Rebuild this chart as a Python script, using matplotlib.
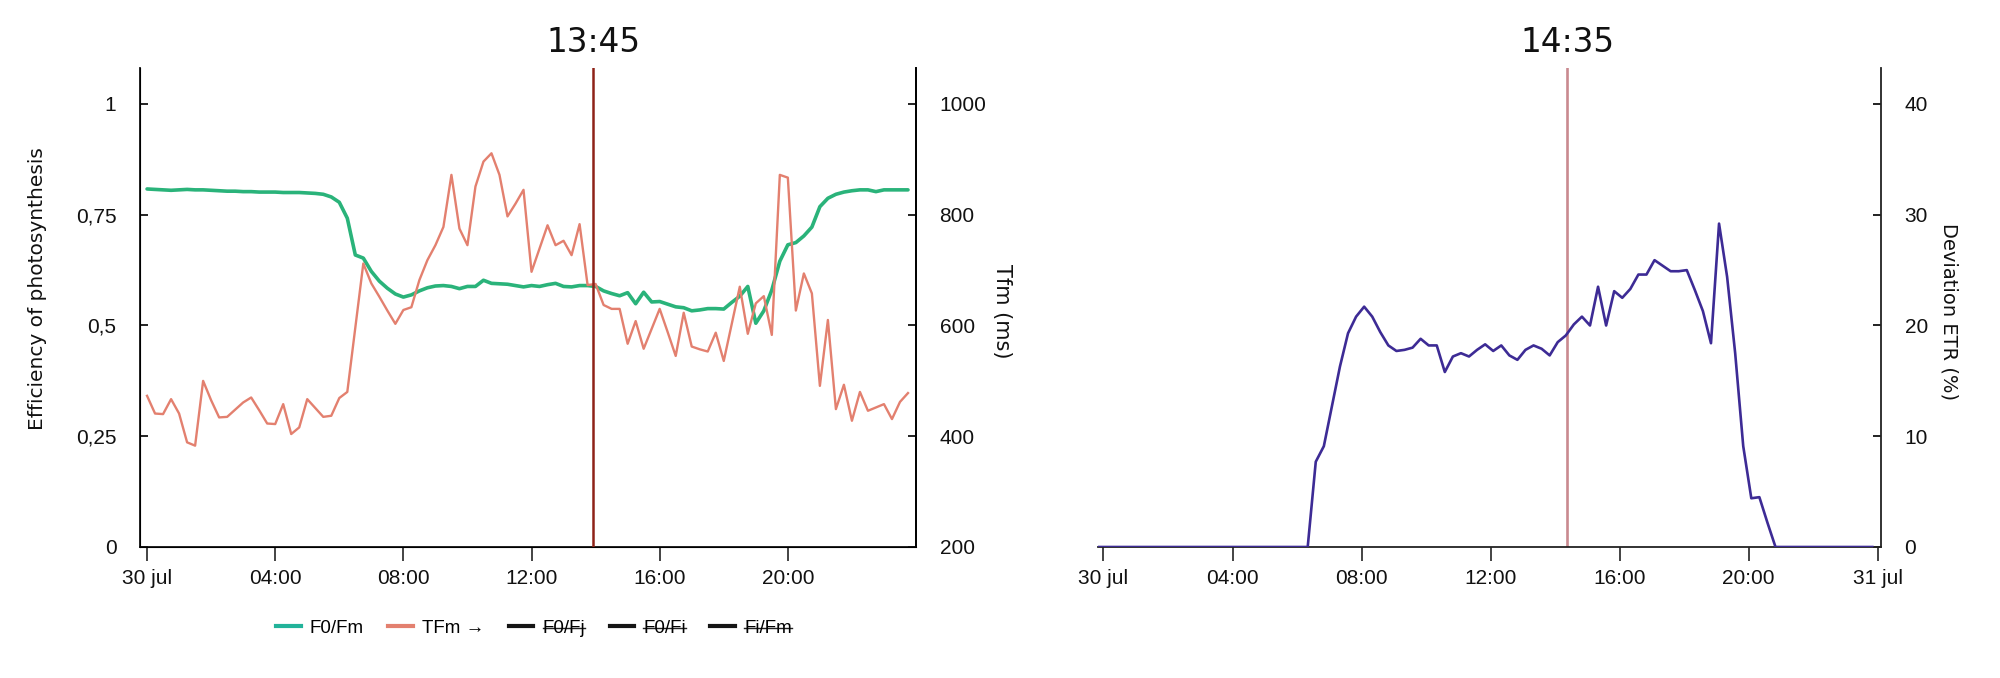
import numpy as np
import matplotlib
matplotlib.use("Agg")
import matplotlib.pyplot as plt
from matplotlib.lines import Line2D

# ---------------- data ----------------
# left chart: samples every 15 minutes from 00:00 (30 jul)
hours = np.arange(96) * 0.25

f0fm = [0.808, 0.807, 0.806, 0.805, 0.806, 0.807, 0.806, 0.806, 0.805, 0.804,
        0.803, 0.803, 0.802, 0.802, 0.801, 0.801, 0.801, 0.800, 0.800, 0.800,
        0.799, 0.798, 0.796, 0.790, 0.778, 0.742, 0.659, 0.652, 0.622, 0.600,
        0.584, 0.571, 0.564, 0.569, 0.578, 0.585, 0.589, 0.590, 0.588, 0.583,
        0.588, 0.588, 0.602, 0.595, 0.594, 0.593, 0.590, 0.587, 0.590, 0.588,
        0.592, 0.595, 0.588, 0.587, 0.590, 0.590, 0.588, 0.578, 0.572, 0.567,
        0.574, 0.549, 0.575, 0.553, 0.554, 0.548, 0.542, 0.540, 0.533, 0.535,
        0.538, 0.538, 0.537, 0.552, 0.566, 0.588, 0.505, 0.533, 0.580, 0.645,
        0.682, 0.687, 0.702, 0.722, 0.768, 0.787, 0.796, 0.801, 0.804, 0.806,
        0.806, 0.802, 0.806, 0.806, 0.806, 0.806]

tfm = [473, 441, 440, 467, 441, 389, 383, 500, 465, 434,
       435, 448, 461, 470, 447, 423, 422, 458, 404, 416,
       467, 451, 435, 437, 469, 480, 596, 712, 676, 652,
       627, 603, 628, 633, 682, 718, 745, 778, 872, 775,
       745, 851, 896, 911, 872, 797, 820, 845, 697, 739,
       781, 745, 753, 727, 783, 673, 675, 637, 630, 630,
       567, 608, 558, 594, 630, 588, 545, 623, 562, 557,
       553, 587, 536, 603, 670, 585, 640, 653, 583, 872,
       867, 627, 694, 658, 491, 610, 449, 493, 428, 480,
       446, 452, 458, 431, 462, 478]

# right chart: samples every 15 minutes starting 23:50 on 29 jul
etr_hours = np.arange(97) * 0.25 - 0.17
etr = [0, 0, 0, 0, 0, 0, 0, 0, 0, 0,
       0, 0, 0, 0, 0, 0, 0, 0, 0, 0,
       0, 0, 0, 0, 0, 0, 0, 7.7, 9.1, 12.7,
       16.3, 19.3, 20.8, 21.7, 20.8, 19.4, 18.2, 17.7, 17.8, 18.0,
       18.8, 18.2, 18.2, 15.8, 17.2, 17.5, 17.2, 17.8, 18.3, 17.7,
       18.2, 17.3, 16.9, 17.8, 18.2, 17.9, 17.3, 18.5, 19.1, 20.1,
       20.8, 20.0, 23.5, 20.0, 23.1, 22.5, 23.3, 24.6, 24.6, 25.9,
       25.4, 24.9, 24.9, 25.0, 23.2, 21.3, 18.4, 29.2, 24.4, 17.5,
       9.1, 4.4, 4.5, 2.2, 0, 0, 0, 0, 0, 0,
       0, 0, 0, 0, 0, 0, 0]

x_ticks_left = [0, 4, 8, 12, 16, 20]
x_labels_left = ["30 jul", "04:00", "08:00", "12:00", "16:00", "20:00"]
x_ticks_right = [0, 4, 8, 12, 16, 20, 24]
x_labels_right = ["30 jul", "04:00", "08:00", "12:00", "16:00", "20:00", "31 jul"]

eff_ticks = [0, 0.25, 0.5, 0.75, 1]
eff_labels = ["0", "0,25", "0,5", "0,75", "1"]
tfm_ticks = [200, 400, 600, 800, 1000]
etr_ticks = [0, 10, 20, 30, 40]

cursor_left = 13.92
cursor_right = 14.375
title_left = "13:45"
title_right = "14:35"

legend_labels = ["F0/Fm", "TFm \u2192", "F0/Fj", "F0/Fi", "Fi/Fm"]

# ---------------- style ----------------
GREEN = "#2ab37a"
LEG_GREEN = "#22b39a"
SALMON = "#e3806f"
PURPLE = "#3d2b95"
CURSOR_L = "#8e2218"
CURSOR_R = "#c98a90"

TICKFONT = ["Liberation Sans", "DejaVu Sans"]
plt.rcParams["font.family"] = TICKFONT

W, H = 2000, 678
fig = plt.figure(figsize=(W / 100, H / 100), dpi=100)

ax_top, ax_bot = 68, 547
bottom = (H - ax_bot) / H
height = (ax_bot - ax_top) / H
TICKSIZE = 15

# ---------- left chart ----------
axL = fig.add_axes([140 / W, bottom, (916 - 140) / W, height])
axL.plot(hours, f0fm, color=GREEN, lw=2.6, solid_capstyle="round", zorder=2)
axL.set_xlim(-0.22, 24.0)
axL.set_ylim(0, 1.081)
axL.set_yticks(eff_ticks)
axL.set_yticklabels(eff_labels)
axL.set_xticks(x_ticks_left)
axL.set_xticklabels(x_labels_left)
axL.spines["top"].set_visible(False)
for s in ["left", "right", "bottom"]:
    axL.spines[s].set_linewidth(1.3)
    axL.spines[s].set_color("#111111")

axT = axL.twinx()
axT.plot(hours, tfm, color=SALMON, lw=1.7, zorder=3)
axT.set_ylim(200, 1065)
axT.set_yticks(tfm_ticks)
axT.spines["top"].set_visible(False)
axT.spines["right"].set_linewidth(1.3)
axT.axvline(cursor_left, color=CURSOR_L, lw=1.8, zorder=5)

for a in (axL, axT):
    a.tick_params(axis="y", direction="in", length=6, width=1.3, pad=17,
                  labelsize=TICKSIZE, colors="#111111")
axL.tick_params(axis="x", direction="out", length=10, width=1.1, pad=6,
                labelsize=TICKSIZE, colors="#111111")

axL.text(cursor_left, 1.054, title_left, transform=axL.get_xaxis_transform(),
         ha="center", va="center", fontsize=23.5, family="DejaVu Sans", color="#111111")

fig.text(38 / W, 1 - 289 / H, "Efficiency of photosynthesis", rotation=90,
         ha="center", va="center", fontsize=14.5, family="DejaVu Sans", color="#111111")
fig.text(1002 / W, 1 - 311 / H, "Tfm (ms)", rotation=-90,
         ha="center", va="center", fontsize=15, family="DejaVu Sans", color="#111111")

# ---------- right chart ----------
axR = fig.add_axes([1098 / W, bottom, (1881 - 1098) / W, height])
axR.plot(etr_hours, etr, color=PURPLE, lw=1.9, zorder=3)
axR.axvline(cursor_right, color=CURSOR_R, lw=1.9, zorder=2)
axR.set_xlim(-0.17, 24.1)
axR.set_ylim(0, 43.25)
axR.set_xticks(x_ticks_right)
axR.set_xticklabels(x_labels_right)
axR.set_yticks(etr_ticks)
axR.yaxis.tick_right()
axR.spines["top"].set_visible(False)
axR.spines["left"].set_visible(False)
for s in ["right", "bottom"]:
    axR.spines[s].set_linewidth(1.3)
    axR.spines[s].set_color("#222222")
axR.tick_params(axis="y", direction="in", length=6, width=1.3, pad=17,
                labelsize=TICKSIZE, colors="#111111")
axR.tick_params(axis="x", direction="out", length=10, width=1.1, pad=6,
                labelsize=TICKSIZE, colors="#111111")
axR.text(cursor_right, 1.054, title_right, transform=axR.get_xaxis_transform(),
         ha="center", va="center", fontsize=23.5, family="DejaVu Sans", color="#111111")
fig.text(1949 / W, 1 - 312 / H, "Deviation ETR (%)", rotation=-90,
         ha="center", va="center", fontsize=14, family="DejaVu Sans", color="#111111")

# ---------- legend ----------
handles = [Line2D([], [], color=LEG_GREEN, lw=3),
           Line2D([], [], color=SALMON, lw=3),
           Line2D([], [], color="#151515", lw=3),
           Line2D([], [], color="#151515", lw=3),
           Line2D([], [], color="#151515", lw=3)]
leg = fig.legend(handles, legend_labels, loc="center", bbox_to_anchor=(534 / W, 1 - 628 / H),
                 ncol=5, frameon=False, handlelength=1.3,
                 handletextpad=0.5, columnspacing=1.3, prop={"family": TICKFONT, "size": 13.5})

fig.canvas.draw()
renderer = fig.canvas.get_renderer()
inv = fig.transFigure.inverted()
for t in leg.get_texts()[2:]:
    bb = t.get_window_extent(renderer)
    ymid = bb.y0 + bb.height * 0.52
    (x0, y0), (x1, y1) = inv.transform([(bb.x0, ymid), (bb.x1, ymid)])
    fig.add_artist(Line2D([x0, x1], [y0, y1], transform=fig.transFigure,
                          color="#222222", lw=1.0))

fig.savefig("out.png", dpi=100, facecolor="white")
